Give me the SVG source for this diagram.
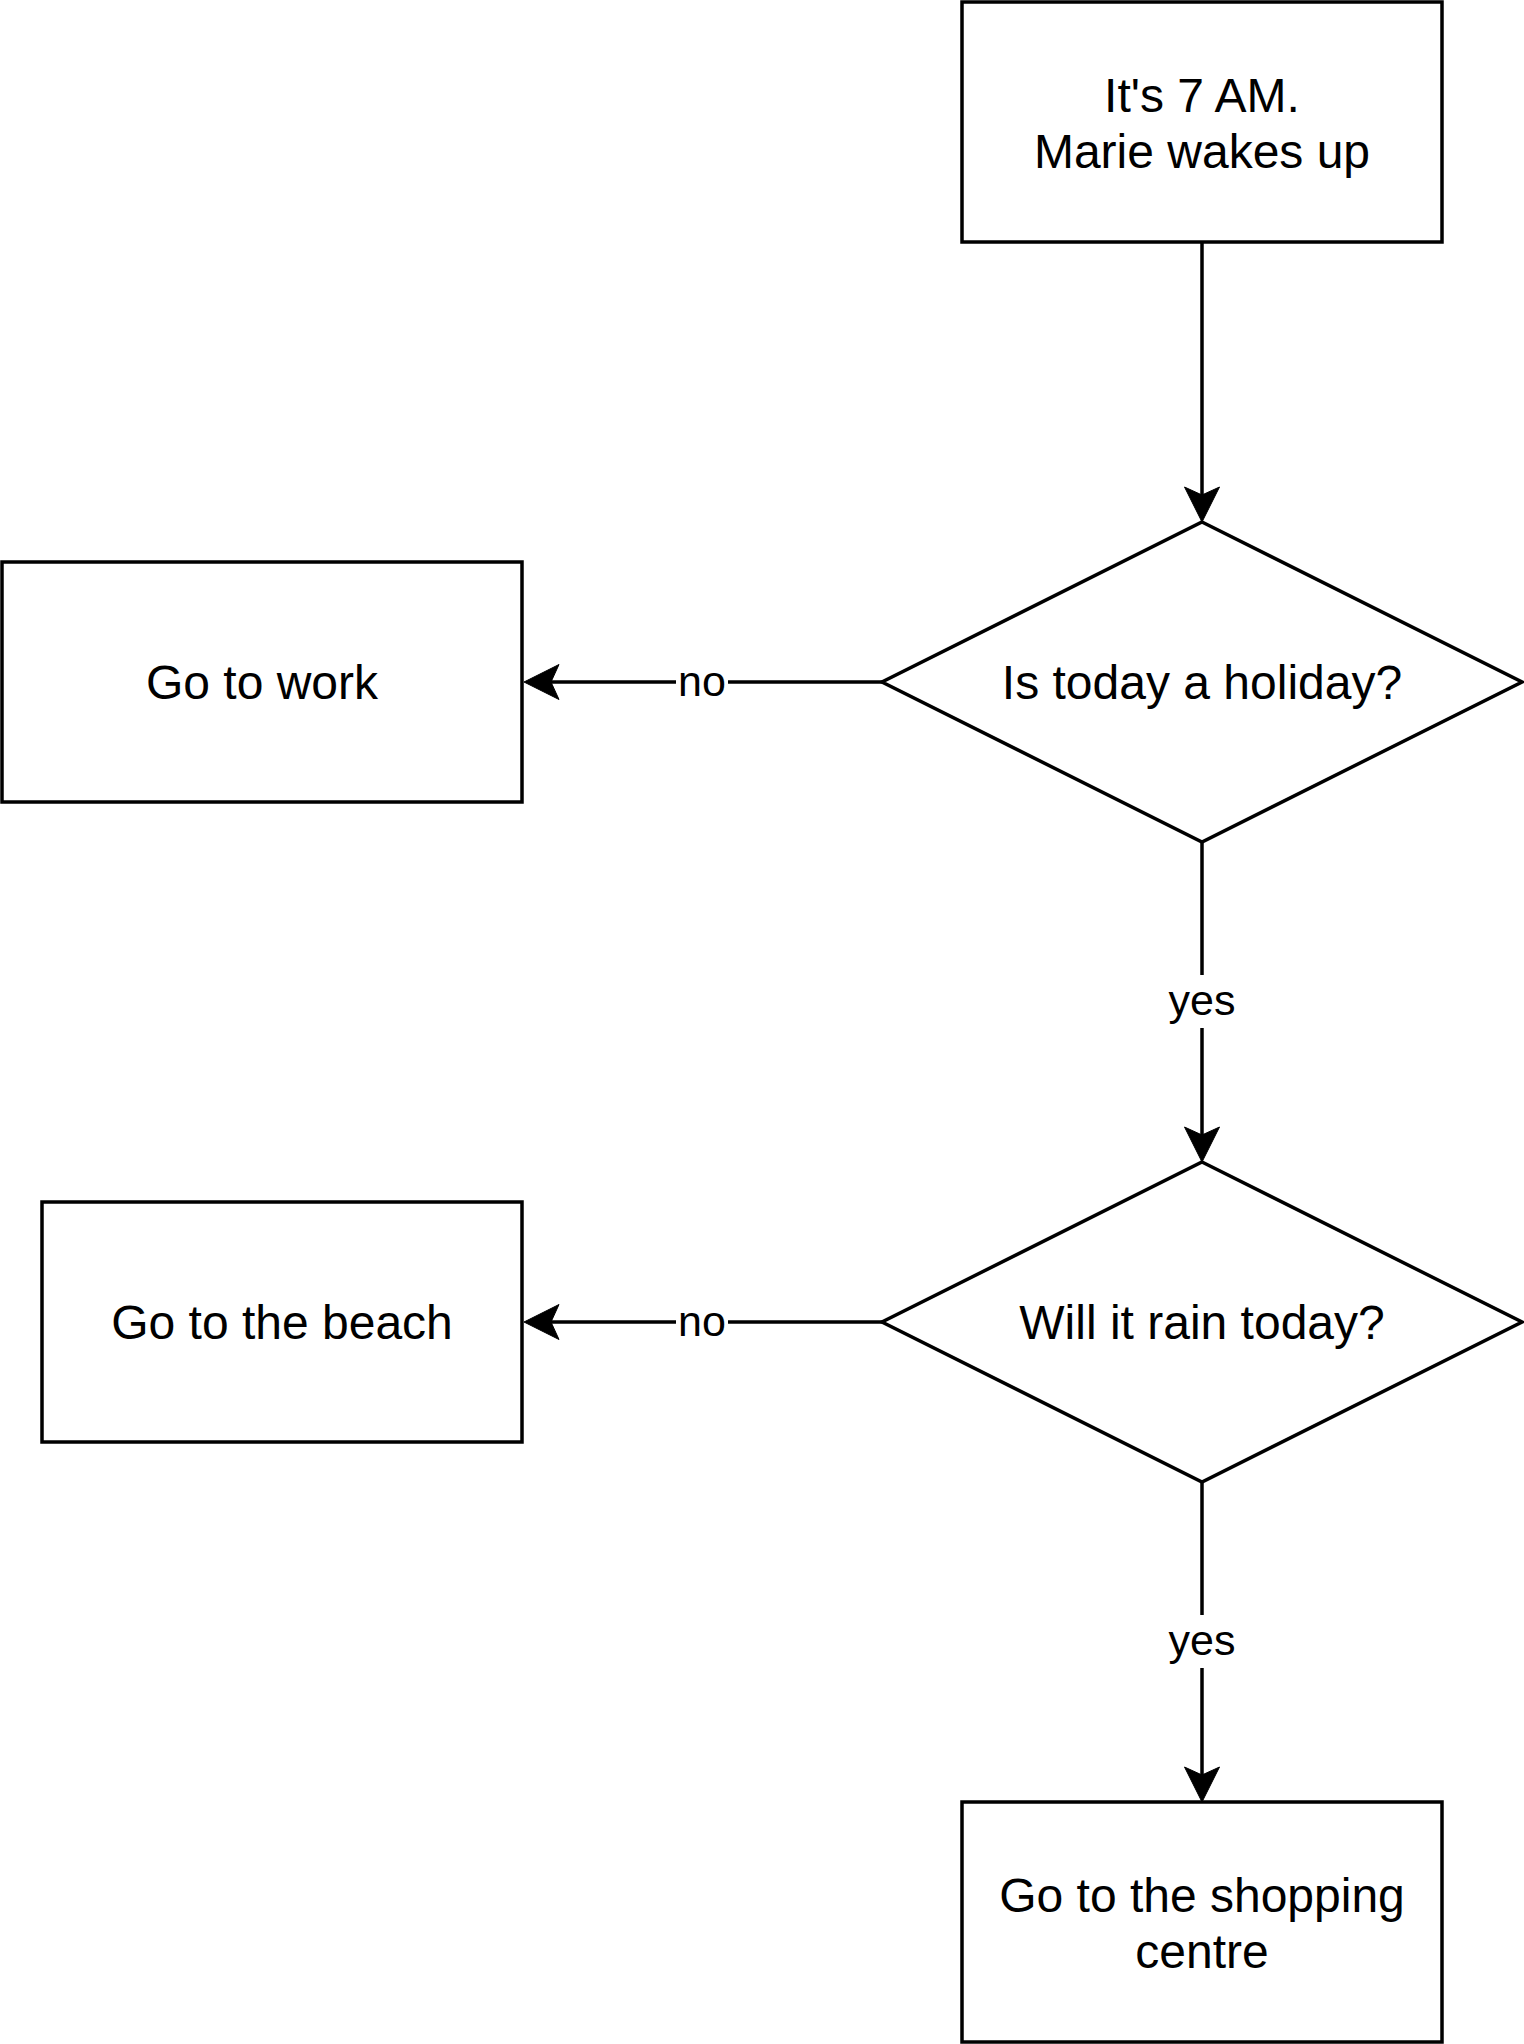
<svg xmlns="http://www.w3.org/2000/svg" width="1524" height="2044" viewBox="0 0 1524 2044">
<style>
.shape{fill:#ffffff;stroke:#000000;stroke-width:3.5}
.edge{fill:none;stroke:#000000;stroke-width:3.5}
.t{font-family:"Liberation Sans",Arial,sans-serif;font-size:48px;fill:#000000;text-anchor:middle}
.lbl{font-family:"Liberation Sans",Arial,sans-serif;font-size:43px;fill:#000000;text-anchor:middle}
.lblbg{fill:#ffffff;stroke:none}
</style>
<defs>
<marker id="arrow" markerUnits="userSpaceOnUse" viewBox="-36 -19 37 38" markerWidth="37" markerHeight="38" refX="-27" refY="0" orient="auto" overflow="visible">
<path d="M0,0 L-35,-17.5 L-27,0 L-35,17.5 Z" fill="#000000" stroke="#000000" stroke-width="1" stroke-linejoin="miter"/>
</marker>
</defs>
<rect width="1524" height="2044" fill="#ffffff"/>
<g id="connectors">
<g id="e1"><path class="edge" d="M1202,242 L1202,495" marker-end="url(#arrow)"/></g>
<g id="e2"><path class="edge" d="M882,682 L551,682" marker-end="url(#arrow)"/>
<rect class="lblbg" x="676" y="656" width="52" height="52"/>
<text class="lbl" x="702" y="696">no</text></g>
<g id="e3"><path class="edge" d="M1202,842 L1202,1135" marker-end="url(#arrow)"/>
<rect class="lblbg" x="1166" y="975" width="72" height="53"/>
<text class="lbl" x="1202" y="1015">yes</text></g>
<g id="e4"><path class="edge" d="M882,1322 L551,1322" marker-end="url(#arrow)"/>
<rect class="lblbg" x="676" y="1296" width="52" height="52"/>
<text class="lbl" x="702" y="1336">no</text></g>
<g id="e5"><path class="edge" d="M1202,1482 L1202,1775" marker-end="url(#arrow)"/>
<rect class="lblbg" x="1166" y="1615" width="72" height="53"/>
<text class="lbl" x="1202" y="1655">yes</text></g>
</g>
<g id="wake">
<rect class="shape" x="962" y="2" width="480" height="240"/>
<text class="t" x="1202" y="112">It's 7 AM.</text>
<text class="t" x="1202" y="168">Marie wakes up</text>
</g>
<g id="holiday">
<path class="shape" d="M1202,522 L1522,682 L1202,842 L882,682 Z"/>
<text class="t" x="1202" y="699">Is today a holiday?</text>
</g>
<g id="work">
<rect class="shape" x="2" y="562" width="520" height="240"/>
<text class="t" x="262" y="699">Go to work</text>
</g>
<g id="rain">
<path class="shape" d="M1202,1162 L1522,1322 L1202,1482 L882,1322 Z"/>
<text class="t" x="1202" y="1339">Will it rain today?</text>
</g>
<g id="beach">
<rect class="shape" x="42" y="1202" width="480" height="240"/>
<text class="t" x="282" y="1339">Go to the beach</text>
</g>
<g id="shopping">
<rect class="shape" x="962" y="1802" width="480" height="240"/>
<text class="t" x="1202" y="1912">Go to the shopping</text>
<text class="t" x="1202" y="1968">centre</text>
</g>
</svg>
